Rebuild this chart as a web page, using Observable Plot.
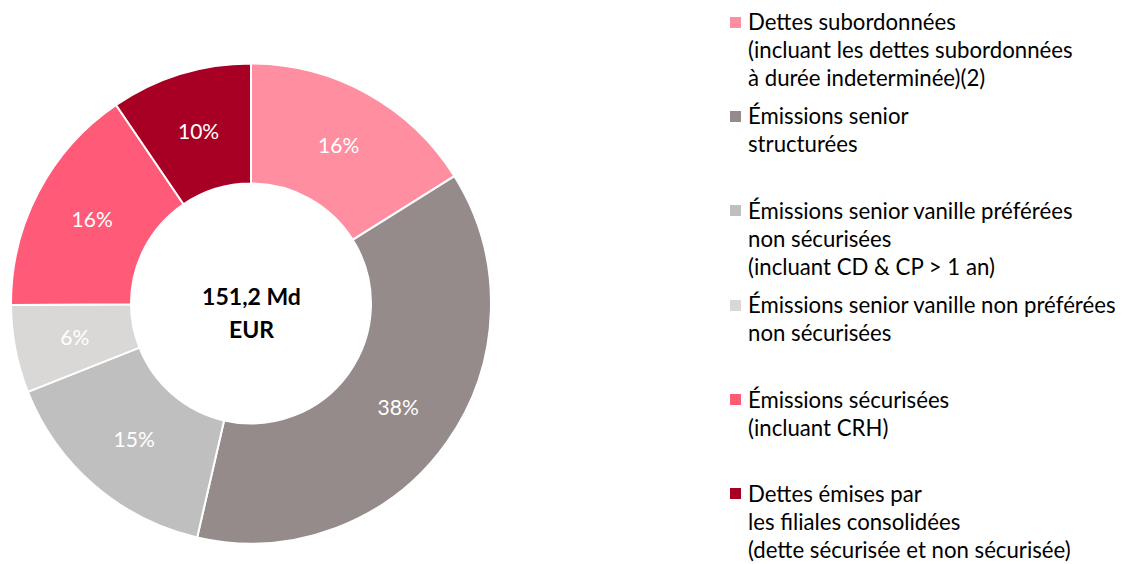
<!DOCTYPE html>
<html>
<head>
<meta charset="utf-8">
<script src="https://cdn.jsdelivr.net/npm/d3@7"></script>
<script src="https://cdn.jsdelivr.net/npm/@observablehq/plot@0.6"></script>
<style>
  html, body { margin: 0; padding: 0; background: #fff; }
  #wrap { position: relative; width: 1129px; height: 564px; overflow: hidden; font-family: Lato, "Open Sans", sans-serif; }
  #chart { position: absolute; left: 0; top: 0; }
  #legend { position: absolute; left: 730px; top: 8px; width: 399px; }
  .item { position: relative; height: 94.4px; padding-left: 18px; font-size: 22.2px; line-height: 28px; color: #000; box-sizing: border-box; white-space: nowrap; }
  .sw { position: absolute; left: 0; top: 8.5px; width: 11px; height: 11px; }
</style>
</head>
<body>
<div id="wrap">
  <div id="chart"></div>
  <div id="legend"></div>
</div>
<script>
// ---- data ----
const categories = [
  "Dettes subordonnées",
  "Émissions senior structurées",
  "Émissions senior vanille préférées non sécurisées",
  "Émissions senior vanille non préférées non sécurisées",
  "Émissions sécurisées",
  "Dettes émises par les filiales consolidées"
];
const shares = [16.1, 37.5, 15.4, 5.9, 15.6, 9.5];
const shareLabels = ["16%", "38%", "15%", "6%", "16%", "10%"];
const colors = ["#FF8FA0", "#948B8A", "#BFBFBF", "#D9D8D7", "#FF5A78", "#A80024"];
const legendLines = [
  ["Dettes subordonnées", "(incluant les dettes subordonnées", "à durée indeterminée)(2)"],
  ["Émissions senior", "structurées"],
  ["Émissions senior vanille préférées", "non sécurisées", "(incluant CD & CP > 1 an)"],
  ["Émissions senior vanille non préférées", "non sécurisées"],
  ["Émissions sécurisées", "(incluant CRH)"],
  ["Dettes émises par", "les filiales consolidées", "(dette sécurisée et non sécurisée)"]
];
const centerLines = ["151,2 Md", "EUR"];

// ---- build ----
const data = categories.map((c, i) => ({cat: c, value: shares[i], label: shareLabels[i]}));
const pie = d3.pie().sort(null).value(d => d.value);
const arcs = pie(data);
const innerFrac = 0.5;
const labelFrac = 0.75;
const labelData = arcs.map(a => {
  const m = (a.startAngle + a.endAngle) / 2;
  return {x: Math.sin(m) * labelFrac, y: Math.cos(m) * labelFrac, label: a.data.label};
});

const W = 502, H = 564, CX = 251, CY = 303.5, R = 240;

function donut(index, scales) {
  const x = scales.x, y = scales.y;
  const colorScale = scales.color || d3.scaleOrdinal(categories, colors);
  const cx = x(0), cy = y(0), r = x(1) - x(0);
  const arc = d3.arc().innerRadius(r * innerFrac).outerRadius(r);
  const g = d3.create("svg:g").attr("transform", `translate(${cx},${cy})`);
  g.selectAll("path").data(arcs).join("path")
    .attr("d", arc)
    .attr("fill", d => colorScale(d.data.cat))
    .attr("stroke", "#fff")
    .attr("stroke-width", 2)
    .attr("stroke-linejoin", "round");
  return g.node();
}

const plot = Plot.plot({
  width: W,
  height: H,
  margin: 0,
  x: {domain: [-CX / R, (W - CX) / R], axis: null},
  y: {domain: [-(H - CY) / R, CY / R], axis: null},
  color: {domain: categories, range: colors},
  style: {fontFamily: "Lato, 'Open Sans', sans-serif", background: "#fff"},
  marks: [
    donut,
    Plot.text(labelData, {x: "x", y: "y", text: "label", fill: "#fff", fontSize: 21}),
    Plot.text([{x: 0, y: 0, t: centerLines.join("\n")}], {x: "x", y: "y", text: "t", fontSize: 23, fontWeight: "bold", fill: "#000", lineHeight: 1.43, dy: 7})
  ]
});
document.getElementById("chart").appendChild(plot);

const legend = d3.select("#legend");
legendLines.forEach((lines, i) => {
  const it = legend.append("div").attr("class", "item");
  it.append("div").attr("class", "sw").style("background", colors[i]);
  it.append("div").html(lines.map(l => l.replace(/&/g, "&amp;").replace(/>/g, "&gt;")).join("<br>"));
});
</script>
</body>
</html>
